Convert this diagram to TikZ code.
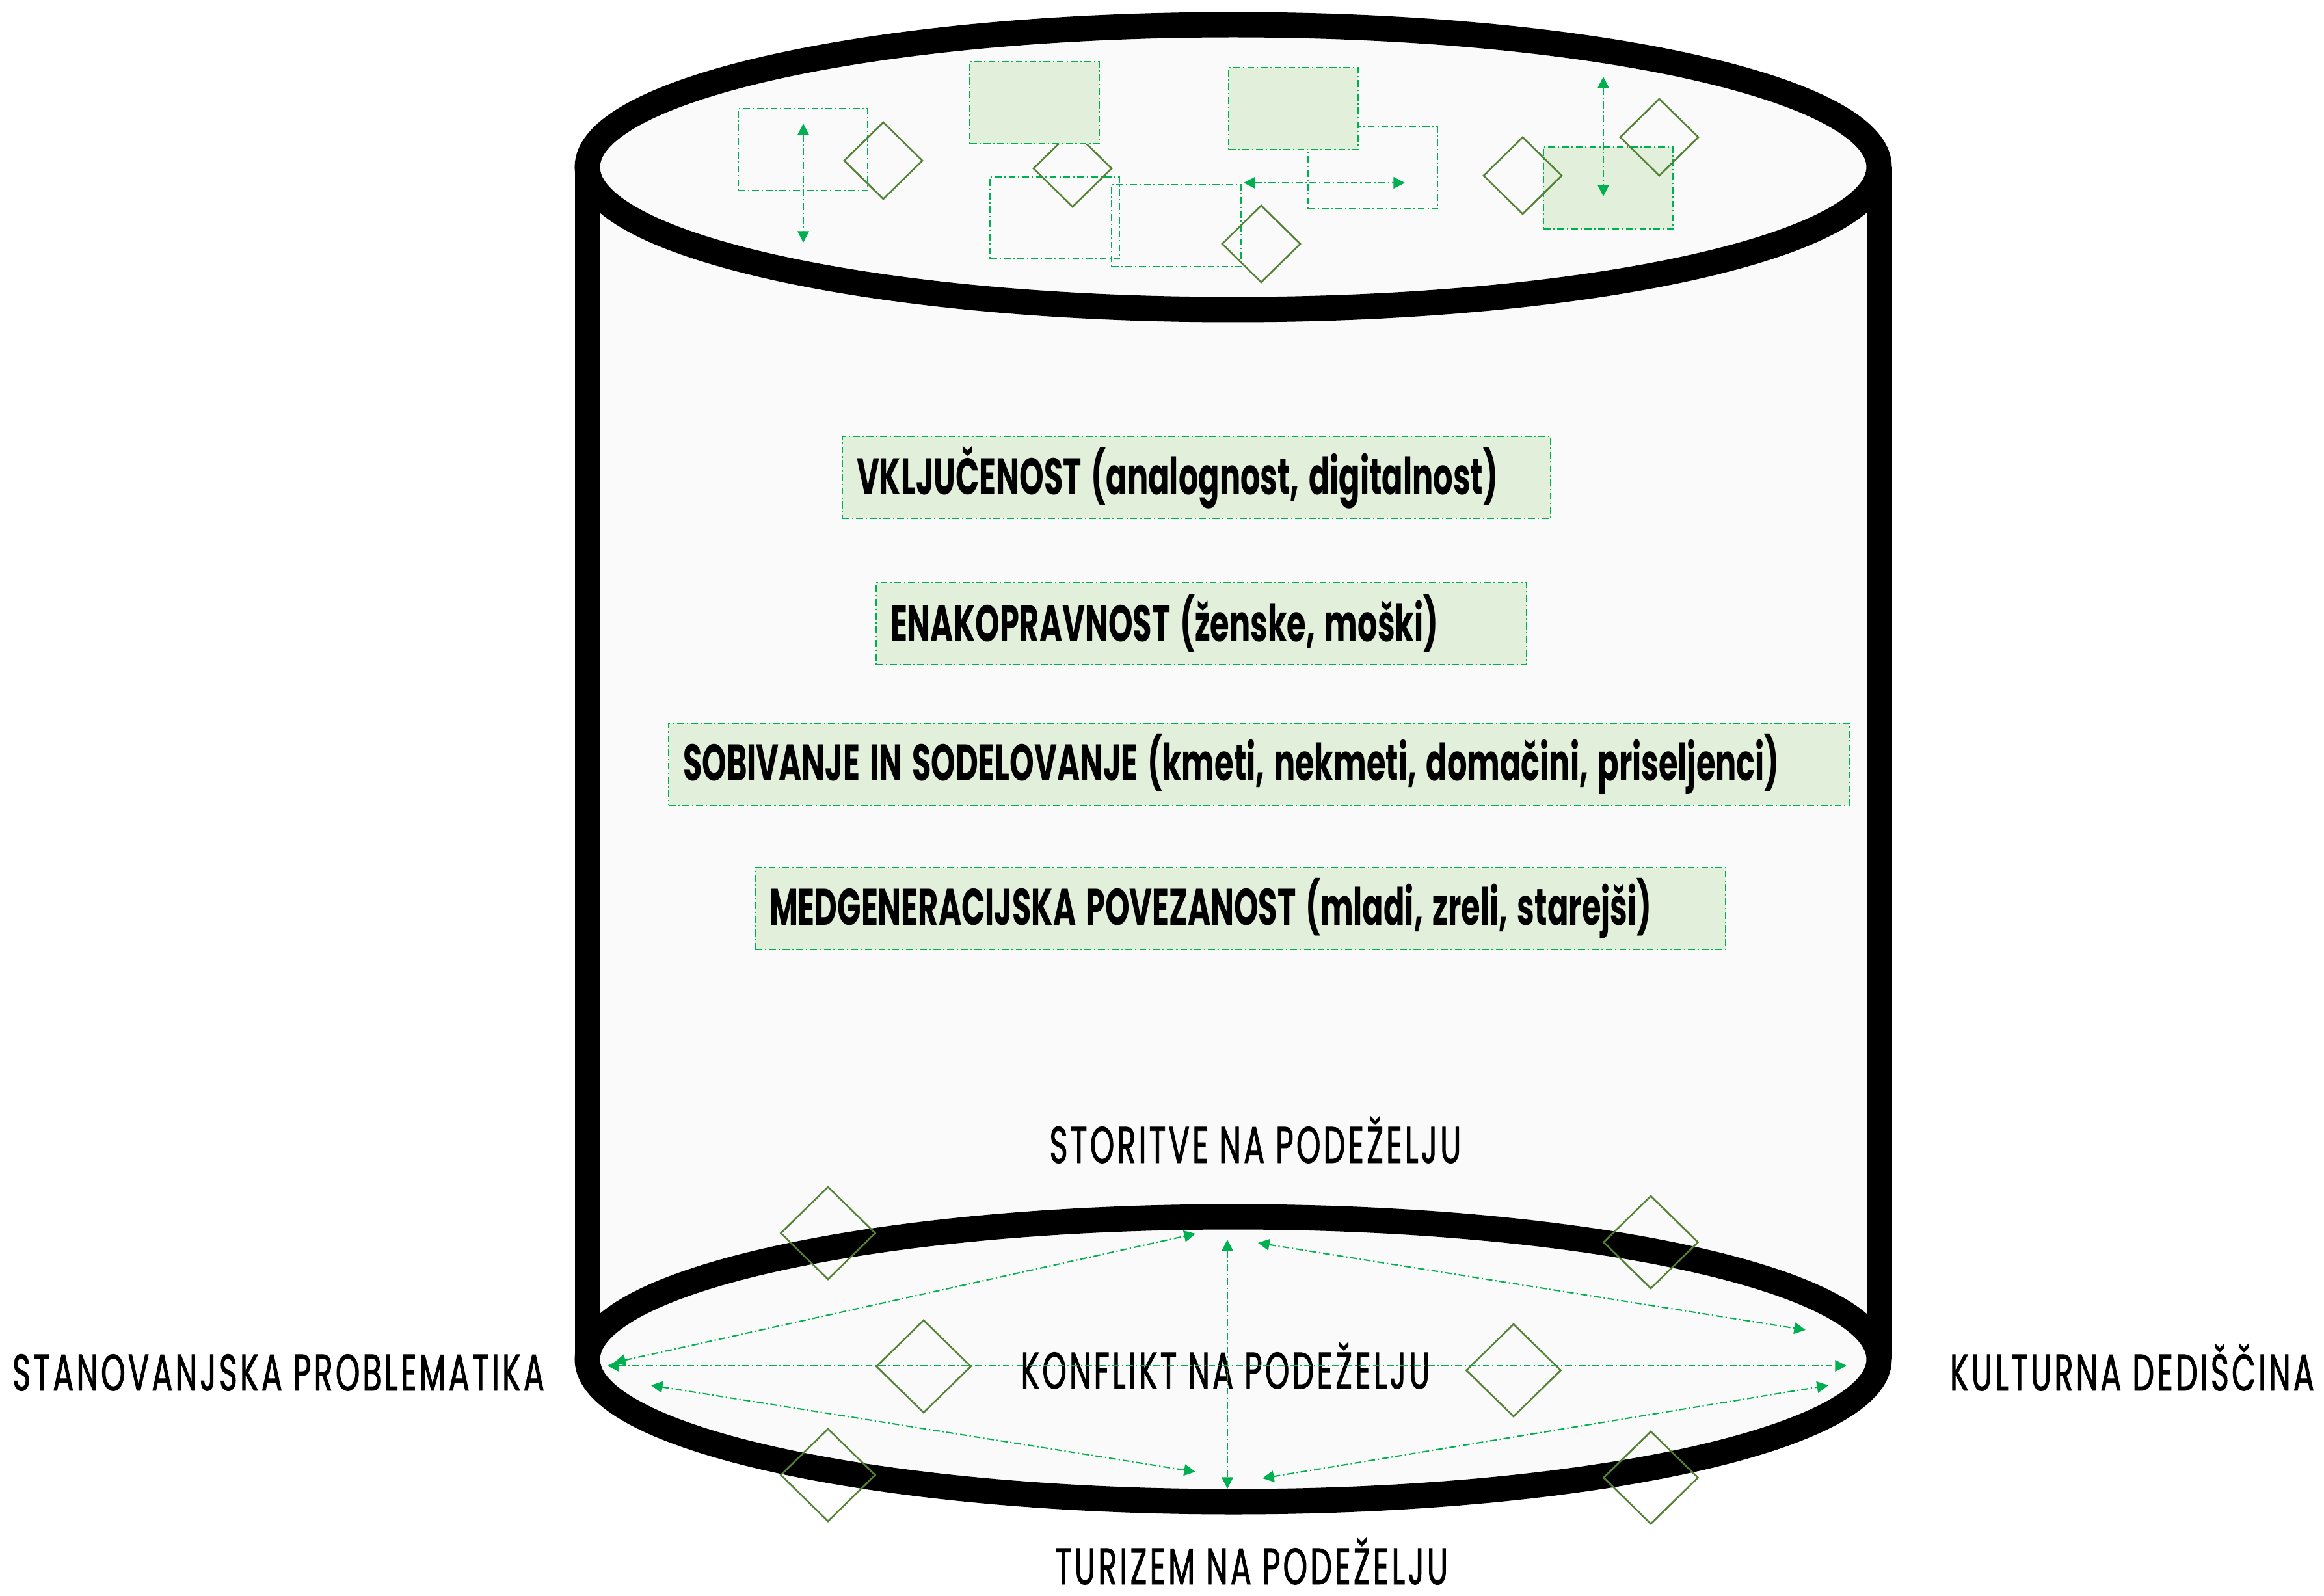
\documentclass[tikz,border=0pt]{standalone}
\usepackage{fontspec}
\setmainfont{Poppins}
\newfontfamily\boxfont[FakeStretch=0.605]{Poppins}
\newfontfamily\sidefont[FakeStretch=0.6,LetterSpace=5.5,FakeBold=1.2]{Poppins}
\usetikzlibrary{arrows.meta,shapes.geometric,positioning}

\definecolor{linegreen}{RGB}{0,176,80}
\definecolor{boxfill}{RGB}{226,239,218}
\definecolor{diagreen}{RGB}{84,130,53}
\definecolor{cylfill}{RGB}{250,250,250}

\tikzset{
  wall/.style={line width=0.39cm, black},
  dashdot/.style={draw=linegreen, line width=0.6pt, dash pattern=on 3pt off 1.2pt on 0.6pt off 1.2pt},
  twohead/.style={dashdot, {Triangle[length=5pt,width=5pt]}-{Triangle[length=5pt,width=5pt]}, linegreen},
  emptybox/.style={dashdot, minimum width=1.99cm, minimum height=1.26cm, inner sep=0, anchor=north west},
  fullbox/.style={emptybox, fill=boxfill},
  rhomb/.style={diamond, draw=diagreen, line width=0.75pt, inner sep=0, minimum width=1.21cm, minimum height=1.19cm},
  bigrhomb/.style={rhomb, minimum width=1.46cm, minimum height=1.43cm},
  textbox/.style={dashdot, fill=boxfill, minimum height=1.26cm, inner xsep=0.22cm, inner ysep=0, align=left, anchor=north west,
    font=\boxfont\bfseries\fontsize{22.5}{27}\selectfont, execute at begin node={\spaceskip=4.2pt\relax}},
  sidetext/.style={anchor=base, inner sep=0, font=\sidefont\fontsize{22.5}{27}\selectfont}
}

\begin{document}
\begin{tikzpicture}
\useasboundingbox (0,0) rectangle (35.73,-24.54);

\fill[cylfill] (9.03,-2.57) arc[start angle=180, end angle=0, x radius=9.93, y radius=2.19]
  -- (28.89,-20.90) arc[start angle=0, end angle=-180, x radius=9.93, y radius=2.19] -- cycle;
\draw[wall] (9.03,-2.57) -- (9.03,-20.90);
\draw[wall] (28.89,-2.57) -- (28.89,-20.90);
\draw[wall] (18.96,-2.57) ellipse [x radius=9.93, y radius=2.19];
\draw[wall] (18.96,-20.90) ellipse [x radius=9.93, y radius=2.19];

\node[emptybox] (ra) at (11.34,-1.66) {};
\node[emptybox] (rc) at (15.21,-2.71) {};
\node[emptybox] (rd) at (17.08,-2.83) {};
\node[emptybox] (rf) at (20.10,-1.94) {};
\node[rhomb] (d2) at (16.49,-2.59) {};
\node[fullbox] (rb) at (14.90,-0.94) {};
\node[fullbox] (re) at (18.88,-1.03) {};
\node[fullbox] (rg) at (23.72,-2.25) {};
\node[rhomb] (d1) at (13.58,-2.47) {};
\node[rhomb] (d3) at (19.39,-3.75) {};
\node[rhomb] (d4) at (23.41,-2.70) {};
\node[rhomb] (d5) at (25.51,-2.11) {};

\coordinate (a1s) at (12.35,-1.90);  \coordinate (a1e) at (12.35,-3.73);
\coordinate (a2s) at (19.12,-2.81);  \coordinate (a2e) at (21.60,-2.81);
\coordinate (a3s) at (24.65,-1.18);  \coordinate (a3e) at (24.65,-3.02);
\draw[twohead] (a1s) -- (a1e);
\draw[twohead] (a2s) -- (a2e);
\draw[twohead] (a3s) -- (a3e);

\node[textbox, text width=10.45cm] (vkljucenost) at (12.94,-6.70) {\mbox{VKLJUČENOST (analognost, digitalnost)}};
\node[textbox, text width=9.56cm] (enakopravnost) at (13.46,-8.95) {\mbox{ENAKOPRAVNOST (ženske, moški)}};
\node[textbox, text width=17.71cm] (sobivanje) at (10.27,-11.11) {\mbox{SOBIVANJE IN SODELOVANJE (kmeti, nekmeti, domačini, priseljenci)}};
\node[textbox, text width=14.48cm] (medgen) at (11.60,-13.33) {\mbox{MEDGENERACIJSKA POVEZANOST (mladi, zreli, starejši)}};

\node[sidetext] (storitve) at (19.30,-17.88) {STORITVE NA PODEŽELJU};
\node[sidetext] (konflikt) at (18.84,-21.35) {KONFLIKT NA PODEŽELJU};
\node[sidetext] (turizem) at (19.24,-24.36) {TURIZEM NA PODEŽELJU};
\node[sidetext] (stanovanje) at (4.28,-21.38) {STANOVANJSKA PROBLEMATIKA};
\node[sidetext] (dediscina) at (32.78,-21.38) {KULTURNA DEDIŠČINA};

\node[bigrhomb] (e1) at (12.73,-18.96) {};
\node[bigrhomb] (e2) at (14.20,-21.01) {};
\node[bigrhomb] (e3) at (12.73,-22.68) {};
\node[bigrhomb] (e4) at (25.38,-19.10) {};
\node[bigrhomb] (e5) at (23.27,-21.07) {};
\node[bigrhomb] (e6) at (25.38,-22.72) {};

\coordinate (west) at (9.34,-21.00);   \coordinate (east) at (28.39,-21.00);
\coordinate (north) at (18.87,-19.06); \coordinate (south) at (18.87,-22.89);
\coordinate (ulw) at (9.44,-20.95);    \coordinate (uln) at (18.38,-18.97);
\coordinate (llw) at (10.01,-21.30);   \coordinate (lls) at (18.38,-22.63);
\coordinate (urn) at (19.34,-19.11);   \coordinate (ure) at (27.76,-20.45);
\coordinate (lrs) at (19.41,-22.73);   \coordinate (lre) at (28.11,-21.30);
\draw[twohead] (west) -- (east);
\draw[twohead] (north) -- (south);
\draw[twohead] (ulw) -- (uln);
\draw[twohead] (llw) -- (lls);
\draw[twohead] (urn) -- (ure);
\draw[twohead] (lrs) -- (lre);
\end{tikzpicture}
\end{document}
